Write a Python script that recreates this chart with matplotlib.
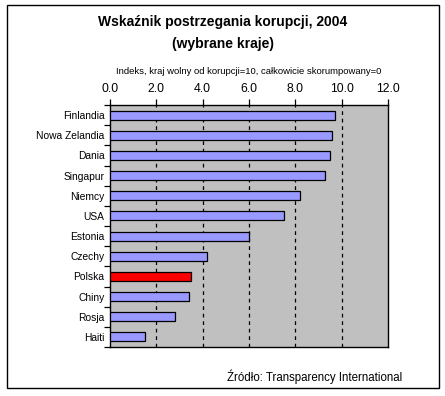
import matplotlib
matplotlib.use("Agg")
import matplotlib.pyplot as plt
from matplotlib.patches import Rectangle

countries = ["Finlandia", "Nowa Zelandia", "Dania", "Singapur", "Niemcy", "USA",
             "Estonia", "Czechy", "Polska", "Chiny", "Rosja", "Haiti"]
values = [9.7, 9.6, 9.5, 9.3, 8.2, 7.5, 6.0, 4.2, 3.5, 3.4, 2.8, 1.5]
xticks = [0, 2, 4, 6, 8, 10, 12]
xtick_labels = ["0.0", "2.0", "4.0", "6.0", "8.0", "10.0", "12.0"]
highlight = "Polska"

plt.rcParams['font.family'] = ['Liberation Sans', 'DejaVu Sans']

fig = plt.figure(figsize=(4.45, 3.96), dpi=100)
fig.patch.set_facecolor("white")

# outer frame
fig.add_artist(Rectangle((7/445, 1-388/396), (439-7)/445, (388-5)/396,
                         transform=fig.transFigure, fill=False, edgecolor="black", lw=1.0))

ax = fig.add_axes([110/445, 1-347/396, (388-110)/445, (347-105)/396])
ax.set_facecolor("#C0C0C0")

n = len(countries)
ypos = list(range(n))
colors = ["#FF0000" if c == highlight else "#9999FF" for c in countries]
ax.barh(ypos, values, height=0.45, color=colors, edgecolor="black", linewidth=0.9, zorder=3)

ax.set_xlim(0, 12)
ax.set_ylim(n - 0.5, -0.5)
for gx in xticks[1:-1]:
    ax.axvline(gx, color="black", linestyle=(0, (3, 3)), lw=0.9, zorder=2)

ax.xaxis.tick_top()
ax.set_xticks(xticks)
ax.set_xticklabels(xtick_labels, fontsize=8.8)
ax.tick_params(axis="x", direction="out", length=4, width=0.9, pad=3)

ax.set_yticks(ypos)
ax.set_yticklabels(countries, fontsize=7.4)
ax.set_yticks([i - 0.5 for i in range(n + 1)], minor=True)
ax.tick_params(axis="y", which="major", length=0, pad=4)
ax.tick_params(axis="y", which="minor", direction="out", length=4, width=0.9)

for s in ax.spines.values():
    s.set_linewidth(1.0)
    s.set_color("black")

fig.text(0.5, 1-22/396, "Wskaźnik postrzegania korupcji, 2004", ha="center", va="center",
         fontsize=10, fontweight="bold")
fig.text(0.5, 1-44/396, "(wybrane kraje)", ha="center", va="center",
         fontsize=10, fontweight="bold")
fig.text(249/445, 1-72/396, "Indeks, kraj wolny od korupcji=10, całkowicie skorumpowany=0",
         ha="center", va="center", fontsize=6.8)
fig.text(402/445, 1-377/396, "Źródło: Transparency International", ha="right", va="center",
         fontsize=8.3)

fig.savefig("out.png", dpi=100)
